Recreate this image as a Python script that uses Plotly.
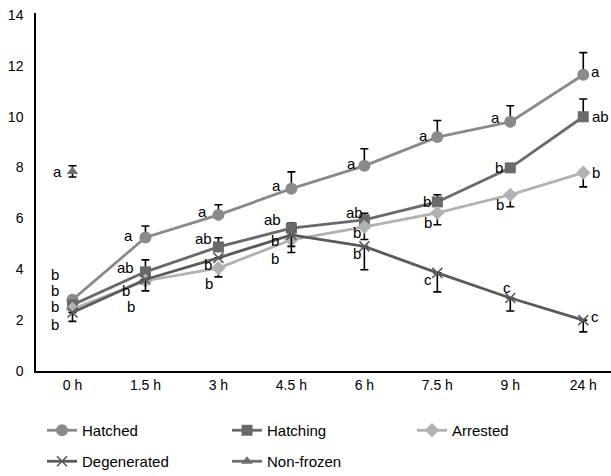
import plotly.graph_objects as go

categories = ["0 h", "1.5 h", "3 h", "4.5 h", "6 h", "7.5 h", "9 h", "24 h"]

hatched = [2.8, 5.25, 6.14, 7.17, 8.07, 9.2, 9.8, 11.65]
hatched_err_up = [0.0, 0.45, 0.4, 0.66, 0.67, 0.65, 0.63, 0.87]
hatched_letters = ["b", "a", "a", "a", "a", "a", "a", "a"]

hatching = [2.6, 3.9, 4.88, 5.62, 5.94, 6.65, 7.99, 10.0]
hatching_err_up = [0.0, 0.47, 0.36, 0.2, 0.26, 0.28, 0.0, 0.7]
hatching_letters = ["b", "ab", "ab", "ab", "ab", "b", "b", "ab"]

arrested = [2.44, 3.55, 4.05, 5.16, 5.67, 6.22, 6.93, 7.8]
arrested_err_down = [0.0, 0.0, 0.35, 0.5, 0.5, 0.47, 0.47, 0.56]
arrested_letters = ["b", "b", "b", "b", "b", "b", "b", "b"]

degenerated = [2.3, 3.6, 4.45, 5.35, 4.9, 3.86, 2.87, 2.0]
degenerated_err_down = [0.35, 0.45, 0.0, 0.45, 0.92, 0.75, 0.51, 0.46]
degenerated_letters = ["b", "b", "b", "b", "b", "c", "c", "c"]

nonfrozen_cat = ["0 h"]
nonfrozen = [7.85]
nonfrozen_err = [0.22]
nonfrozen_letters = ["a"]

FONT = "Liberation Sans, Arial, sans-serif"

fig = go.Figure()

def add(name, y, color, symbol, size, legend, x=categories, up=None, down=None, lw=2.8, mline=None):
    ey = None
    if up is not None or down is not None:
        ey = dict(type="data", symmetric=False,
                  array=up if up is not None else [0] * len(y),
                  arrayminus=down if down is not None else [0] * len(y),
                  color="black", thickness=1.6, width=4)
    marker = dict(symbol=symbol, size=size, color=color)
    if mline:
        marker["line"] = dict(color=mline, width=1.6)
    fig.add_trace(go.Scatter(x=x, y=y, name=name, mode="lines+markers",
                             line=dict(color=color, width=lw), marker=marker,
                             error_y=ey, legend=legend))

add("Hatched", hatched, "#8a8a8a", "circle", 12, "legend", up=hatched_err_up)
add("Hatching", hatching, "#6a6a6a", "square", 11, "legend", up=hatching_err_up)
add("Arrested", arrested, "#b2b2b2", "diamond", 11, "legend", down=arrested_err_down)
add("Degenerated", degenerated, "#5a5a5a", "x-thin", 10, "legend2", down=degenerated_err_down, mline="#5a5a5a")
add("Non-frozen", nonfrozen, "#6e6e6e", "triangle-up", 10, "legend2", x=nonfrozen_cat,
    up=nonfrozen_err, down=nonfrozen_err)

# letter label offsets (px): (dx, dy) with dy positive = down
offsets = {
    "Hatched": [(-17, -25), (-17, -2), (-16, -3), (-15, -3), (-13, -2), (-14, -2), (-15, -4), (12, -3)],
    "Hatching": [(-17, -14), (-20, -4), (-15, -8), (-19, -9), (-10, -7), (-10, 0), (-11, 0), (17, 0)],
    "Arrested": [(-17, -2), (-14, 26), (-9, 15), (-16, 19), (-7, 6), (-9, 10), (-10, 10), (13, 0)],
    "Degenerated": [(-17, 12), (-19, 11), (-10, 7), (-16, 6), (-7, 7), (-9, 7), (-3, -11), (12, -4)],
    "Non-frozen": [(-15, 0)],
}
series = [
    ("Hatched", categories, hatched, hatched_letters),
    ("Hatching", categories, hatching, hatching_letters),
    ("Arrested", categories, arrested, arrested_letters),
    ("Degenerated", categories, degenerated, degenerated_letters),
    ("Non-frozen", nonfrozen_cat, nonfrozen, nonfrozen_letters),
]
for name, xs, ys, letters in series:
    for (cx, cy, lt, (dx, dy)) in zip(xs, ys, letters, offsets[name]):
        fig.add_annotation(x=cx, y=cy, text=lt, showarrow=False,
                           xshift=dx, yshift=-dy, xanchor="center", yanchor="middle",
                           font=dict(family=FONT, size=15, color="black"))

fig.update_layout(
    width=611, height=476,
    margin=dict(l=36, r=0, t=13, b=105),
    plot_bgcolor="white", paper_bgcolor="white",
    font=dict(family=FONT, color="black"),
    xaxis=dict(type="category", categoryorder="array", categoryarray=categories,
               range=[-0.5, 7.38], showgrid=False, zeroline=False,
               showline=True, linecolor="black", linewidth=1.5, ticks="",
               tickfont=dict(size=14, family=FONT), ticklabelstandoff=0),
    yaxis=dict(range=[0, 14.08], tickvals=[0, 2, 4, 6, 8, 10, 12, 14],
               showgrid=False, zeroline=False, showline=True, linecolor="black",
               linewidth=1.5, ticks="", tickfont=dict(size=14, family=FONT),
               ticklabelstandoff=8),
    legend=dict(orientation="h", xref="container", yref="container",
                x=42 / 611, y=1 - 414 / 476, xanchor="left", yanchor="top",
                entrywidth=140, entrywidthmode="pixels",
                font=dict(size=15, family=FONT), bgcolor="rgba(0,0,0,0)"),
    legend2=dict(orientation="h", xref="container", yref="container",
                 x=42 / 611, y=1 - 445 / 476, xanchor="left", yanchor="top",
                 entrywidth=140, entrywidthmode="pixels",
                 font=dict(size=15, family=FONT), bgcolor="rgba(0,0,0,0)"),
)

fig.write_html("out.html", config={"displayModeBar": False},
               post_script="document.body.style.margin='0';document.body.style.padding='0';")
